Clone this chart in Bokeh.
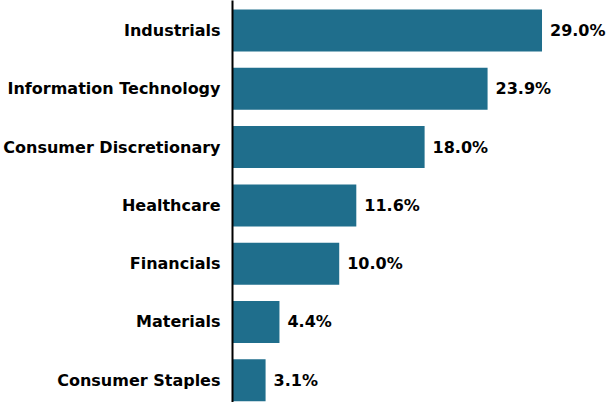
from bokeh.plotting import figure
from bokeh.models import ColumnDataSource, Range1d, FixedTicker
from bokeh.core.properties import value
from bokeh.embed import file_html
from bokeh.resources import INLINE

categories = ["Industrials", "Information Technology", "Consumer Discretionary",
              "Healthcare", "Financials", "Materials", "Consumer Staples"]
values = [29.0, 23.9, 18.0, 11.6, 10.0, 4.4, 3.1]
value_labels = ["29.0%", "23.9%", "18.0%", "11.6%", "10.0%", "4.4%", "3.1%"]

positions = list(range(len(categories)))
src = ColumnDataSource(dict(y=positions, v=values, lab=value_labels))

FONT = "DejaVu Sans"

p = figure(width=608, height=402, output_backend="svg", toolbar_location=None,
           x_range=Range1d(0, 35.23), y_range=Range1d(6.381, -0.5146),
           min_border_left=231, min_border_right=0, min_border_top=0,
           min_border_bottom=0)
p.outline_line_color = None
p.xgrid.visible = False
p.ygrid.visible = False
p.xaxis.visible = False

p.hbar(y="y", right="v", left=0, height=0.72, source=src,
       fill_color="#1f6e8c", line_color=None)

p.text(x="v", y="y", text="lab", source=src, x_offset=8,
       text_align="left", text_baseline="middle",
       text_font=value(FONT), text_font_style="bold",
       text_font_size="16px", text_color="#000000")

ya = p.yaxis[0]
ya.ticker = FixedTicker(ticks=positions)
ya.major_label_overrides = {i: c for i, c in zip(positions, categories)}
ya.major_tick_line_color = None
ya.minor_tick_line_color = None
ya.major_tick_out = 0
ya.major_tick_in = 0
ya.major_label_standoff = 12
ya.axis_line_color = "#000000"
ya.axis_line_width = 2
ya.major_label_text_font = FONT
ya.major_label_text_font_style = "bold"
ya.major_label_text_font_size = "16px"
ya.major_label_text_color = "#000000"

open("out.html", "w").write(file_html(p, INLINE))
